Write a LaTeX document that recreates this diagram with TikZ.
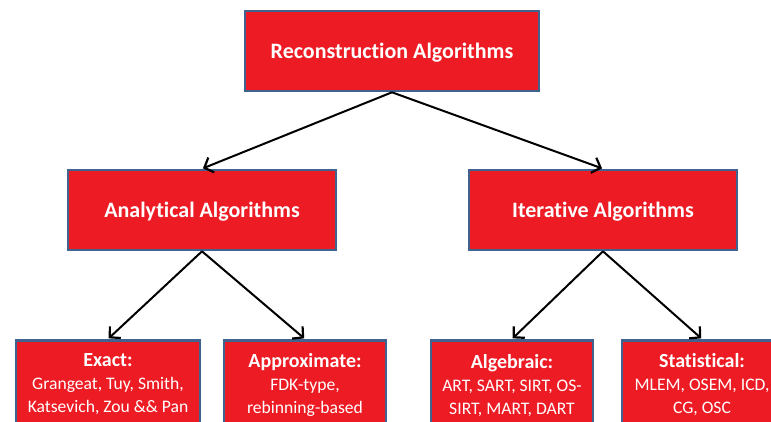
\documentclass[tikz,border=0pt]{standalone}
\usepackage{fontspec}
\setmainfont{Carlito}[Ligatures=NoCommon]
\usetikzlibrary{arrows.meta}
\definecolor{boxred}{HTML}{ED1C24}
\definecolor{boxedge}{HTML}{41638F}
\tikzset{
  algobox/.style={draw=boxedge, line width=2.6pt, fill=boxred, text=white,
    inner sep=0pt, align=center},
  headtext/.style={font=\fontsize{22}{26}\selectfont\bfseries, text depth=0pt},
  leaftext/.style={text=white, align=center, anchor=north, inner sep=0pt,
    font=\fontsize{17.6}{23}\selectfont},
  link/.style={draw=black, line width=2pt,
    -{Straight Barb[length=7.5pt,width=16pt,line width=2.2pt]}, shorten >=1pt},
}
\newcommand{\leafhead}[1]{{\fontsize{20}{23}\selectfont\bfseries #1}}
\begin{document}
\begin{tikzpicture}[x=1pt,y=-1pt]
\useasboundingbox (0,0) rectangle (771,421);
\clip (0,0) rectangle (771,421);

% level 0
\node[algobox, headtext, minimum width=294pt, minimum height=80pt] (root) at (392,51)
  {Reconstruction Algorithms};

% level 1
\node[algobox, headtext, minimum width=268pt, minimum height=80pt] (ana) at (202,210)
  {Analytical Algorithms};
\node[algobox, headtext, minimum width=268pt, minimum height=80pt] (ite) at (603,210)
  {Iterative Algorithms};

% level 2 (boxes run past the lower edge)
\node[algobox, minimum width=184pt, minimum height=100pt, anchor=north] (exact) at (108,339) {};
\node[algobox, minimum width=162pt, minimum height=100pt, anchor=north] (approx) at (305,339) {};
\node[algobox, minimum width=162pt, minimum height=100pt, anchor=north] (alg) at (512,339) {};
\node[algobox, minimum width=160pt, minimum height=100pt, anchor=north] (stat) at (702,339) {};

\node[leaftext] (exactT) at (108,353)
  {\leafhead{Exact:}\\ Grangeat, Tuy, Smith,\\ Katsevich, Zou \&\& Pan};
\node[leaftext] (approxT) at (305,353)
  {\leafhead{Approximate:}\\ FDK-type,\\ rebinning-based};
\node[leaftext] (algT) at (512,354)
  {\leafhead{Algebraic:}\\ ART, SART, SIRT, OS-\\ SIRT, MART, DART};
\node[leaftext] (statT) at (702,353)
  {\leafhead{Statistical:}\\ MLEM, OSEM, ICD,\\ CG, OSC};

% connectors
\draw[link] (root.south) -- (ana.north);
\draw[link] (root.south) -- (ite.north);
\draw[link] (ana.south) -- (exact.north);
\draw[link] (ana.south) -- (approx.north);
\draw[link] (ite.south) -- (alg.north);
\draw[link] (ite.south) -- (stat.north);
\end{tikzpicture}
\end{document}
